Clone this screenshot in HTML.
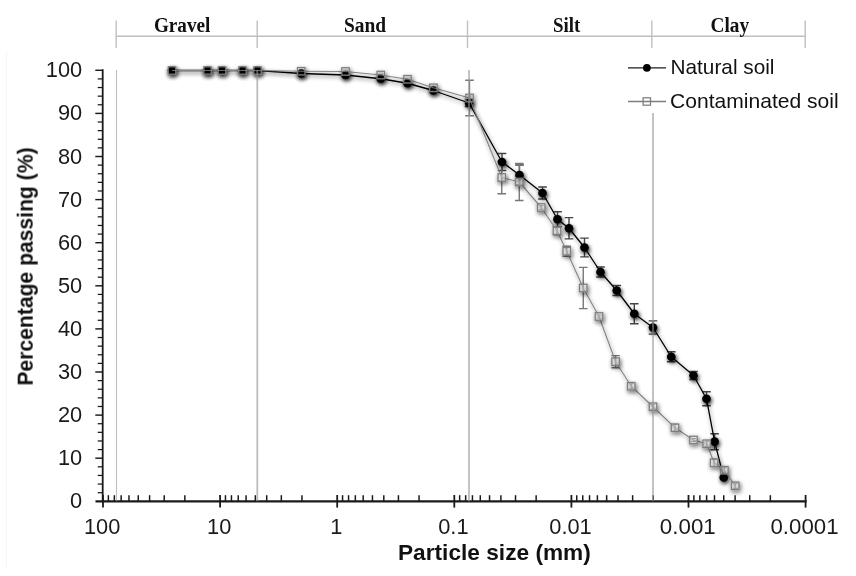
<!DOCTYPE html>
<html lang="en"><head><meta charset="utf-8"><title>Particle size distribution</title>
<style>html,body{margin:0;padding:0;background:#fff;}body{width:856px;height:576px;overflow:hidden}svg{display:block}</style>
</head><body>
<svg width="856" height="576" viewBox="0 0 856 576">
<defs>
<filter id="sh" x="-5%" y="-5%" width="110%" height="110%">
<feGaussianBlur in="SourceAlpha" stdDeviation="2.3" result="b"/>
<feOffset in="b" dx="0.8" dy="1.6" result="ob"/>
<feComponentTransfer in="ob" result="s"><feFuncA type="linear" slope="0.9"/></feComponentTransfer>
<feMerge><feMergeNode in="s"/><feMergeNode in="SourceGraphic"/></feMerge>
</filter>
<filter id="shl" x="-5%" y="-5%" width="110%" height="110%">
<feGaussianBlur in="SourceAlpha" stdDeviation="2.3" result="b"/>
<feOffset in="b" dx="0.8" dy="1.6" result="ob"/>
<feComponentTransfer in="ob" result="s"><feFuncA type="linear" slope="0.5"/></feComponentTransfer>
<feMerge><feMergeNode in="s"/><feMergeNode in="SourceGraphic"/></feMerge>
</filter>
</defs>
<rect width="856" height="576" fill="#fff"/>
<line x1="6.5" y1="51" x2="6.5" y2="567" stroke="#f6f6f6" stroke-width="1"/>
<g stroke="#c0c0c0" stroke-width="1.4" fill="none">
<line x1="115.5" y1="36.3" x2="805.9" y2="36.3"/>
<line x1="116.2" y1="20.5" x2="116.2" y2="48"/>
<line x1="257.2" y1="20.5" x2="257.2" y2="48"/>
<line x1="467.5" y1="20.5" x2="467.5" y2="48"/>
<line x1="651.8" y1="20.5" x2="651.8" y2="48"/>
<line x1="805.2" y1="20.5" x2="805.2" y2="48"/>
</g>
<g font-family="'Liberation Serif', serif" font-weight="bold" font-size="20.3px" fill="#111" opacity="0.999">
<text x="153.9" y="32.2" textLength="56.5" lengthAdjust="spacingAndGlyphs">Gravel</text>
<text x="343.9" y="32.2" textLength="42.2" lengthAdjust="spacingAndGlyphs">Sand</text>
<text x="553.1" y="32.2" textLength="27.3" lengthAdjust="spacingAndGlyphs">Silt</text>
<text x="710.6" y="32.2" textLength="38.5" lengthAdjust="spacingAndGlyphs">Clay</text>
</g>
<g stroke="#1a1a1a" fill="none">
<line x1="102.7" y1="69.3" x2="102.7" y2="502.3" stroke-width="1.8"/>
<line x1="95.5" y1="501.3" x2="806.6" y2="501.3" stroke-width="2.2"/>
<line x1="97.7" y1="492.68" x2="102.7" y2="492.68" stroke-width="1.25"/>
<line x1="97.7" y1="484.06" x2="102.7" y2="484.06" stroke-width="1.25"/>
<line x1="97.7" y1="475.44" x2="102.7" y2="475.44" stroke-width="1.25"/>
<line x1="97.7" y1="466.82" x2="102.7" y2="466.82" stroke-width="1.25"/>
<line x1="95.3" y1="458.20" x2="102.7" y2="458.20" stroke-width="1.45"/>
<line x1="97.7" y1="449.58" x2="102.7" y2="449.58" stroke-width="1.25"/>
<line x1="97.7" y1="440.96" x2="102.7" y2="440.96" stroke-width="1.25"/>
<line x1="97.7" y1="432.34" x2="102.7" y2="432.34" stroke-width="1.25"/>
<line x1="97.7" y1="423.72" x2="102.7" y2="423.72" stroke-width="1.25"/>
<line x1="95.3" y1="415.10" x2="102.7" y2="415.10" stroke-width="1.45"/>
<line x1="97.7" y1="406.48" x2="102.7" y2="406.48" stroke-width="1.25"/>
<line x1="97.7" y1="397.86" x2="102.7" y2="397.86" stroke-width="1.25"/>
<line x1="97.7" y1="389.24" x2="102.7" y2="389.24" stroke-width="1.25"/>
<line x1="97.7" y1="380.62" x2="102.7" y2="380.62" stroke-width="1.25"/>
<line x1="95.3" y1="372.00" x2="102.7" y2="372.00" stroke-width="1.45"/>
<line x1="97.7" y1="363.38" x2="102.7" y2="363.38" stroke-width="1.25"/>
<line x1="97.7" y1="354.76" x2="102.7" y2="354.76" stroke-width="1.25"/>
<line x1="97.7" y1="346.14" x2="102.7" y2="346.14" stroke-width="1.25"/>
<line x1="97.7" y1="337.52" x2="102.7" y2="337.52" stroke-width="1.25"/>
<line x1="95.3" y1="328.90" x2="102.7" y2="328.90" stroke-width="1.45"/>
<line x1="97.7" y1="320.28" x2="102.7" y2="320.28" stroke-width="1.25"/>
<line x1="97.7" y1="311.66" x2="102.7" y2="311.66" stroke-width="1.25"/>
<line x1="97.7" y1="303.04" x2="102.7" y2="303.04" stroke-width="1.25"/>
<line x1="97.7" y1="294.42" x2="102.7" y2="294.42" stroke-width="1.25"/>
<line x1="95.3" y1="285.80" x2="102.7" y2="285.80" stroke-width="1.45"/>
<line x1="97.7" y1="277.18" x2="102.7" y2="277.18" stroke-width="1.25"/>
<line x1="97.7" y1="268.56" x2="102.7" y2="268.56" stroke-width="1.25"/>
<line x1="97.7" y1="259.94" x2="102.7" y2="259.94" stroke-width="1.25"/>
<line x1="97.7" y1="251.32" x2="102.7" y2="251.32" stroke-width="1.25"/>
<line x1="95.3" y1="242.70" x2="102.7" y2="242.70" stroke-width="1.45"/>
<line x1="97.7" y1="234.08" x2="102.7" y2="234.08" stroke-width="1.25"/>
<line x1="97.7" y1="225.46" x2="102.7" y2="225.46" stroke-width="1.25"/>
<line x1="97.7" y1="216.84" x2="102.7" y2="216.84" stroke-width="1.25"/>
<line x1="97.7" y1="208.22" x2="102.7" y2="208.22" stroke-width="1.25"/>
<line x1="95.3" y1="199.60" x2="102.7" y2="199.60" stroke-width="1.45"/>
<line x1="97.7" y1="190.98" x2="102.7" y2="190.98" stroke-width="1.25"/>
<line x1="97.7" y1="182.36" x2="102.7" y2="182.36" stroke-width="1.25"/>
<line x1="97.7" y1="173.74" x2="102.7" y2="173.74" stroke-width="1.25"/>
<line x1="97.7" y1="165.12" x2="102.7" y2="165.12" stroke-width="1.25"/>
<line x1="95.3" y1="156.50" x2="102.7" y2="156.50" stroke-width="1.45"/>
<line x1="97.7" y1="147.88" x2="102.7" y2="147.88" stroke-width="1.25"/>
<line x1="97.7" y1="139.26" x2="102.7" y2="139.26" stroke-width="1.25"/>
<line x1="97.7" y1="130.64" x2="102.7" y2="130.64" stroke-width="1.25"/>
<line x1="97.7" y1="122.02" x2="102.7" y2="122.02" stroke-width="1.25"/>
<line x1="95.3" y1="113.40" x2="102.7" y2="113.40" stroke-width="1.45"/>
<line x1="97.7" y1="104.78" x2="102.7" y2="104.78" stroke-width="1.25"/>
<line x1="97.7" y1="96.16" x2="102.7" y2="96.16" stroke-width="1.25"/>
<line x1="97.7" y1="87.54" x2="102.7" y2="87.54" stroke-width="1.25"/>
<line x1="97.7" y1="78.92" x2="102.7" y2="78.92" stroke-width="1.25"/>
<line x1="95.3" y1="70.30" x2="102.7" y2="70.30" stroke-width="1.45"/>
<line x1="103.00" y1="495" x2="103.00" y2="507.6" stroke-width="1.8"/>
<line x1="184.85" y1="495.2" x2="184.85" y2="501.3" stroke-width="1.5"/>
<line x1="164.23" y1="495.2" x2="164.23" y2="501.3" stroke-width="1.5"/>
<line x1="149.60" y1="495.2" x2="149.60" y2="501.3" stroke-width="1.5"/>
<line x1="138.25" y1="495.2" x2="138.25" y2="501.3" stroke-width="1.5"/>
<line x1="128.98" y1="495.2" x2="128.98" y2="501.3" stroke-width="1.5"/>
<line x1="121.14" y1="495.2" x2="121.14" y2="501.3" stroke-width="1.5"/>
<line x1="114.35" y1="495.2" x2="114.35" y2="501.3" stroke-width="1.5"/>
<line x1="108.36" y1="495.2" x2="108.36" y2="501.3" stroke-width="1.5"/>
<line x1="220.10" y1="495" x2="220.10" y2="507.6" stroke-width="1.8"/>
<line x1="301.95" y1="495.2" x2="301.95" y2="501.3" stroke-width="1.5"/>
<line x1="281.33" y1="495.2" x2="281.33" y2="501.3" stroke-width="1.5"/>
<line x1="266.70" y1="495.2" x2="266.70" y2="501.3" stroke-width="1.5"/>
<line x1="255.35" y1="495.2" x2="255.35" y2="501.3" stroke-width="1.5"/>
<line x1="246.08" y1="495.2" x2="246.08" y2="501.3" stroke-width="1.5"/>
<line x1="238.24" y1="495.2" x2="238.24" y2="501.3" stroke-width="1.5"/>
<line x1="231.45" y1="495.2" x2="231.45" y2="501.3" stroke-width="1.5"/>
<line x1="225.46" y1="495.2" x2="225.46" y2="501.3" stroke-width="1.5"/>
<line x1="337.20" y1="495" x2="337.20" y2="507.6" stroke-width="1.8"/>
<line x1="419.05" y1="495.2" x2="419.05" y2="501.3" stroke-width="1.5"/>
<line x1="398.43" y1="495.2" x2="398.43" y2="501.3" stroke-width="1.5"/>
<line x1="383.80" y1="495.2" x2="383.80" y2="501.3" stroke-width="1.5"/>
<line x1="372.45" y1="495.2" x2="372.45" y2="501.3" stroke-width="1.5"/>
<line x1="363.18" y1="495.2" x2="363.18" y2="501.3" stroke-width="1.5"/>
<line x1="355.34" y1="495.2" x2="355.34" y2="501.3" stroke-width="1.5"/>
<line x1="348.55" y1="495.2" x2="348.55" y2="501.3" stroke-width="1.5"/>
<line x1="342.56" y1="495.2" x2="342.56" y2="501.3" stroke-width="1.5"/>
<line x1="454.30" y1="495" x2="454.30" y2="507.6" stroke-width="1.8"/>
<line x1="536.15" y1="495.2" x2="536.15" y2="501.3" stroke-width="1.5"/>
<line x1="515.53" y1="495.2" x2="515.53" y2="501.3" stroke-width="1.5"/>
<line x1="500.90" y1="495.2" x2="500.90" y2="501.3" stroke-width="1.5"/>
<line x1="489.55" y1="495.2" x2="489.55" y2="501.3" stroke-width="1.5"/>
<line x1="480.28" y1="495.2" x2="480.28" y2="501.3" stroke-width="1.5"/>
<line x1="472.44" y1="495.2" x2="472.44" y2="501.3" stroke-width="1.5"/>
<line x1="465.65" y1="495.2" x2="465.65" y2="501.3" stroke-width="1.5"/>
<line x1="459.66" y1="495.2" x2="459.66" y2="501.3" stroke-width="1.5"/>
<line x1="571.40" y1="495" x2="571.40" y2="507.6" stroke-width="1.8"/>
<line x1="653.25" y1="495.2" x2="653.25" y2="501.3" stroke-width="1.5"/>
<line x1="632.63" y1="495.2" x2="632.63" y2="501.3" stroke-width="1.5"/>
<line x1="618.00" y1="495.2" x2="618.00" y2="501.3" stroke-width="1.5"/>
<line x1="606.65" y1="495.2" x2="606.65" y2="501.3" stroke-width="1.5"/>
<line x1="597.38" y1="495.2" x2="597.38" y2="501.3" stroke-width="1.5"/>
<line x1="589.54" y1="495.2" x2="589.54" y2="501.3" stroke-width="1.5"/>
<line x1="582.75" y1="495.2" x2="582.75" y2="501.3" stroke-width="1.5"/>
<line x1="576.76" y1="495.2" x2="576.76" y2="501.3" stroke-width="1.5"/>
<line x1="688.50" y1="495" x2="688.50" y2="507.6" stroke-width="1.8"/>
<line x1="770.35" y1="495.2" x2="770.35" y2="501.3" stroke-width="1.5"/>
<line x1="749.73" y1="495.2" x2="749.73" y2="501.3" stroke-width="1.5"/>
<line x1="735.10" y1="495.2" x2="735.10" y2="501.3" stroke-width="1.5"/>
<line x1="723.75" y1="495.2" x2="723.75" y2="501.3" stroke-width="1.5"/>
<line x1="714.48" y1="495.2" x2="714.48" y2="501.3" stroke-width="1.5"/>
<line x1="706.64" y1="495.2" x2="706.64" y2="501.3" stroke-width="1.5"/>
<line x1="699.85" y1="495.2" x2="699.85" y2="501.3" stroke-width="1.5"/>
<line x1="693.86" y1="495.2" x2="693.86" y2="501.3" stroke-width="1.5"/>
<line x1="805.60" y1="495" x2="805.60" y2="507.6" stroke-width="1.8"/>
</g>
<g font-family="'Liberation Sans', sans-serif" font-size="21.8px" fill="#1a1a1a" opacity="0.999">
<text x="82.2" y="508.30" text-anchor="end">0</text>
<text x="82.2" y="465.20" text-anchor="end">10</text>
<text x="82.2" y="422.10" text-anchor="end">20</text>
<text x="82.2" y="379.00" text-anchor="end">30</text>
<text x="82.2" y="335.90" text-anchor="end">40</text>
<text x="82.2" y="292.80" text-anchor="end">50</text>
<text x="82.2" y="249.70" text-anchor="end">60</text>
<text x="82.2" y="206.60" text-anchor="end">70</text>
<text x="82.2" y="163.50" text-anchor="end">80</text>
<text x="82.2" y="120.40" text-anchor="end">90</text>
<text x="82.2" y="77.30" text-anchor="end">100</text>
<text x="102.10" y="533.5" text-anchor="middle">100</text>
<text x="219.20" y="533.5" text-anchor="middle">10</text>
<text x="336.30" y="533.5" text-anchor="middle">1</text>
<text x="453.40" y="533.5" text-anchor="middle">0.1</text>
<text x="570.50" y="533.5" text-anchor="middle">0.01</text>
<text x="659.85" y="533.5" textLength="55.9" lengthAdjust="spacingAndGlyphs">0.001</text>
<text x="770.50" y="533.5" textLength="68" lengthAdjust="spacingAndGlyphs">0.0001</text>
</g>
<g font-family="'Liberation Sans', sans-serif" font-weight="bold" fill="#111" opacity="0.999">
<text x="398.0" y="559.6" font-size="21.6px" textLength="192.8" lengthAdjust="spacingAndGlyphs">Particle size (mm)</text>
<text transform="translate(32.7,385.6) rotate(-90)" font-size="22.8px" textLength="238.2" lengthAdjust="spacingAndGlyphs">Percentage passing (%)</text>
</g>
<g>










<path d="M469.10 99.50V106.50M464.80 99.50H473.40M464.80 106.50H473.40" stroke="#444" stroke-width="1.4" fill="none"/>
<path d="M502.00 153.50V170.50M497.70 153.50H506.30M497.70 170.50H506.30" stroke="#444" stroke-width="1.4" fill="none"/>
<path d="M519.50 165.00V185.00M515.20 165.00H523.80M515.20 185.00H523.80" stroke="#444" stroke-width="1.4" fill="none"/>
<path d="M542.50 187.00V199.00M538.20 187.00H546.80M538.20 199.00H546.80" stroke="#444" stroke-width="1.4" fill="none"/>
<path d="M557.50 211.75V226.75M553.20 211.75H561.80M553.20 226.75H561.80" stroke="#444" stroke-width="1.4" fill="none"/>
<path d="M569.00 217.65V238.85M564.70 217.65H573.30M564.70 238.85H573.30" stroke="#444" stroke-width="1.4" fill="none"/>
<path d="M584.50 238.10V256.90M580.20 238.10H588.80M580.20 256.90H588.80" stroke="#444" stroke-width="1.4" fill="none"/>
<path d="M600.50 267.00V277.00M596.20 267.00H604.80M596.20 277.00H604.80" stroke="#444" stroke-width="1.4" fill="none"/>
<path d="M616.75 285.50V295.50M612.45 285.50H621.05M612.45 295.50H621.05" stroke="#444" stroke-width="1.4" fill="none"/>
<path d="M634.30 303.75V323.75M630.00 303.75H638.60M630.00 323.75H638.60" stroke="#444" stroke-width="1.4" fill="none"/>
<path d="M653.00 320.90V334.10M648.70 320.90H657.30M648.70 334.10H657.30" stroke="#444" stroke-width="1.4" fill="none"/>
<path d="M671.25 351.75V361.75M666.95 351.75H675.55M666.95 361.75H675.55" stroke="#444" stroke-width="1.4" fill="none"/>
<path d="M693.50 371.50V379.50M689.20 371.50H697.80M689.20 379.50H697.80" stroke="#444" stroke-width="1.4" fill="none"/>
<path d="M706.50 391.75V405.75M702.20 391.75H710.80M702.20 405.75H710.80" stroke="#444" stroke-width="1.4" fill="none"/>
<path d="M714.60 433.70V449.70M710.30 433.70H718.90M710.30 449.70H718.90" stroke="#444" stroke-width="1.4" fill="none"/>











<path d="M469.50 80.30V115.70M465.20 80.30H473.80M465.20 115.70H473.80" stroke="#777" stroke-width="1.4" fill="none"/>
<path d="M501.75 161.25V193.75M497.45 161.25H506.05M497.45 193.75H506.05" stroke="#777" stroke-width="1.4" fill="none"/>
<path d="M519.25 163.50V200.50M514.95 163.50H523.55M514.95 200.50H523.55" stroke="#777" stroke-width="1.4" fill="none"/>
<path d="M541.25 205.50V209.50M538.85 205.50H543.65M538.85 209.50H543.65" stroke="#777" stroke-width="1.2" fill="none"/>
<path d="M557.00 226.75V234.75M552.70 226.75H561.30M552.70 234.75H561.30" stroke="#777" stroke-width="1.4" fill="none"/>
<path d="M566.75 246.25V256.25M562.45 246.25H571.05M562.45 256.25H571.05" stroke="#777" stroke-width="1.4" fill="none"/>
<path d="M583.25 267.40V308.60M578.95 267.40H587.55M578.95 308.60H587.55" stroke="#777" stroke-width="1.4" fill="none"/>
<path d="M599.00 315.00V318.00M596.60 315.00H601.40M596.60 318.00H601.40" stroke="#777" stroke-width="1.2" fill="none"/>
<path d="M615.60 355.60V367.80M611.30 355.60H619.90M611.30 367.80H619.90" stroke="#777" stroke-width="1.4" fill="none"/>
<path d="M631.25 383.75V388.75M628.85 383.75H633.65M628.85 388.75H633.65" stroke="#777" stroke-width="1.2" fill="none"/>
<path d="M653.00 404.25V409.25M650.60 404.25H655.40M650.60 409.25H655.40" stroke="#777" stroke-width="1.2" fill="none"/>
<path d="M675.00 424.25V431.25M672.60 424.25H677.40M672.60 431.25H677.40" stroke="#777" stroke-width="1.2" fill="none"/>
<path d="M693.50 438.50V441.50M691.10 438.50H695.90M691.10 441.50H695.90" stroke="#777" stroke-width="1.2" fill="none"/>
<path d="M706.70 441.25V446.25M704.30 441.25H709.10M704.30 446.25H709.10" stroke="#777" stroke-width="1.2" fill="none"/>
<path d="M714.10 459.10V466.50M711.70 459.10H716.50M711.70 466.50H716.50" stroke="#777" stroke-width="1.2" fill="none"/>
<path d="M724.40 467.70V472.70M722.00 467.70H726.80M722.00 472.70H726.80" stroke="#777" stroke-width="1.2" fill="none"/>
<path d="M735.20 483.30V488.30M732.80 483.30H737.60M732.80 488.30H737.60" stroke="#777" stroke-width="1.2" fill="none"/>
</g>
<g>
<polyline filter="url(#shl)" points="172.00,70.50 207.50,70.50 222.00,70.50 242.50,70.50 257.50,70.50 301.25,73.50 345.50,75.00 380.75,78.75 407.50,83.25 433.25,90.50 469.10,103.00 502.00,162.00 519.50,175.00 542.50,193.00 557.50,219.25 569.00,228.25 584.50,247.50 600.50,272.00 616.75,290.50 634.30,313.75 653.00,327.50 671.25,356.75 693.50,375.50 706.50,398.75 714.60,441.70 723.75,477.50" fill="none" stroke="#000" stroke-width="1.3" stroke-linejoin="round"/>
<g filter="url(#sh)">
<circle cx="172.00" cy="70.50" r="4.35" fill="#000"/>
<circle cx="207.50" cy="70.50" r="4.35" fill="#000"/>
<circle cx="222.00" cy="70.50" r="4.35" fill="#000"/>
<circle cx="242.50" cy="70.50" r="4.35" fill="#000"/>
<circle cx="257.50" cy="70.50" r="4.35" fill="#000"/>
<circle cx="301.25" cy="73.50" r="4.35" fill="#000"/>
<circle cx="345.50" cy="75.00" r="4.35" fill="#000"/>
<circle cx="380.75" cy="78.75" r="4.35" fill="#000"/>
<circle cx="407.50" cy="83.25" r="4.35" fill="#000"/>
<circle cx="433.25" cy="90.50" r="4.35" fill="#000"/>
<circle cx="469.10" cy="103.00" r="4.35" fill="#000"/>
<circle cx="502.00" cy="162.00" r="4.35" fill="#000"/>
<circle cx="519.50" cy="175.00" r="4.35" fill="#000"/>
<circle cx="542.50" cy="193.00" r="4.35" fill="#000"/>
<circle cx="557.50" cy="219.25" r="4.35" fill="#000"/>
<circle cx="569.00" cy="228.25" r="4.35" fill="#000"/>
<circle cx="584.50" cy="247.50" r="4.35" fill="#000"/>
<circle cx="600.50" cy="272.00" r="4.35" fill="#000"/>
<circle cx="616.75" cy="290.50" r="4.35" fill="#000"/>
<circle cx="634.30" cy="313.75" r="4.35" fill="#000"/>
<circle cx="653.00" cy="327.50" r="4.35" fill="#000"/>
<circle cx="671.25" cy="356.75" r="4.35" fill="#000"/>
<circle cx="693.50" cy="375.50" r="4.35" fill="#000"/>
<circle cx="706.50" cy="398.75" r="4.35" fill="#000"/>
<circle cx="714.60" cy="441.70" r="4.35" fill="#000"/>
<circle cx="723.75" cy="477.50" r="4.35" fill="#000"/>
</g></g>
<g>
<polyline filter="url(#shl)" points="172.00,70.50 207.50,70.50 222.00,70.50 242.50,70.50 257.50,70.50 301.25,71.25 345.50,71.50 380.75,75.00 407.50,79.25 433.40,87.80 469.50,98.00 501.75,177.50 519.25,182.00 541.25,207.50 557.00,230.75 566.75,251.25 583.25,288.00 599.00,316.50 615.60,361.70 631.25,386.25 653.00,406.75 675.00,427.75 693.50,440.00 706.70,443.75 714.10,462.80 724.40,470.20 735.20,485.80" fill="none" stroke="#858585" stroke-width="1.15" stroke-linejoin="round"/>
<g filter="url(#sh)">
<rect x="168.25" y="66.75" width="7.5" height="7.5" fill="none" stroke="#7d7d7d" stroke-width="1.25"/>
<rect x="203.75" y="66.75" width="7.5" height="7.5" fill="none" stroke="#7d7d7d" stroke-width="1.25"/>
<rect x="218.25" y="66.75" width="7.5" height="7.5" fill="none" stroke="#7d7d7d" stroke-width="1.25"/>
<rect x="238.75" y="66.75" width="7.5" height="7.5" fill="none" stroke="#7d7d7d" stroke-width="1.25"/>
<rect x="253.75" y="66.75" width="7.5" height="7.5" fill="none" stroke="#7d7d7d" stroke-width="1.25"/>
<rect x="297.50" y="67.50" width="7.5" height="7.5" fill="none" stroke="#7d7d7d" stroke-width="1.25"/>
<rect x="341.75" y="67.75" width="7.5" height="7.5" fill="none" stroke="#7d7d7d" stroke-width="1.25"/>
<rect x="377.00" y="71.25" width="7.5" height="7.5" fill="none" stroke="#7d7d7d" stroke-width="1.25"/>
<rect x="403.75" y="75.50" width="7.5" height="7.5" fill="none" stroke="#7d7d7d" stroke-width="1.25"/>
<rect x="429.65" y="84.05" width="7.5" height="7.5" fill="none" stroke="#7d7d7d" stroke-width="1.25"/>
<rect x="465.75" y="94.25" width="7.5" height="7.5" fill="none" stroke="#7d7d7d" stroke-width="1.25"/>
<rect x="498.00" y="173.75" width="7.5" height="7.5" fill="#fff" fill-opacity="0.3" stroke="#7d7d7d" stroke-width="1.25"/>
<rect x="515.50" y="178.25" width="7.5" height="7.5" fill="#fff" fill-opacity="0.3" stroke="#7d7d7d" stroke-width="1.25"/>
<rect x="537.50" y="203.75" width="7.5" height="7.5" fill="#fff" fill-opacity="0.3" stroke="#7d7d7d" stroke-width="1.25"/>
<rect x="553.25" y="227.00" width="7.5" height="7.5" fill="#fff" fill-opacity="0.3" stroke="#7d7d7d" stroke-width="1.25"/>
<rect x="563.00" y="247.50" width="7.5" height="7.5" fill="#fff" fill-opacity="0.3" stroke="#7d7d7d" stroke-width="1.25"/>
<rect x="579.50" y="284.25" width="7.5" height="7.5" fill="#fff" fill-opacity="0.3" stroke="#7d7d7d" stroke-width="1.25"/>
<rect x="595.25" y="312.75" width="7.5" height="7.5" fill="#fff" fill-opacity="0.3" stroke="#7d7d7d" stroke-width="1.25"/>
<rect x="611.85" y="357.95" width="7.5" height="7.5" fill="#fff" fill-opacity="0.3" stroke="#7d7d7d" stroke-width="1.25"/>
<rect x="627.50" y="382.50" width="7.5" height="7.5" fill="#fff" fill-opacity="0.3" stroke="#7d7d7d" stroke-width="1.25"/>
<rect x="649.25" y="403.00" width="7.5" height="7.5" fill="#fff" fill-opacity="0.3" stroke="#7d7d7d" stroke-width="1.25"/>
<rect x="671.25" y="424.00" width="7.5" height="7.5" fill="#fff" fill-opacity="0.3" stroke="#7d7d7d" stroke-width="1.25"/>
<rect x="689.75" y="436.25" width="7.5" height="7.5" fill="#fff" fill-opacity="0.3" stroke="#7d7d7d" stroke-width="1.25"/>
<rect x="702.95" y="440.00" width="7.5" height="7.5" fill="#fff" fill-opacity="0.3" stroke="#7d7d7d" stroke-width="1.25"/>
<rect x="710.35" y="459.05" width="7.5" height="7.5" fill="#fff" fill-opacity="0.3" stroke="#7d7d7d" stroke-width="1.25"/>
<rect x="720.65" y="466.45" width="7.5" height="7.5" fill="#fff" fill-opacity="0.3" stroke="#7d7d7d" stroke-width="1.25"/>
<rect x="731.45" y="482.05" width="7.5" height="7.5" fill="#fff" fill-opacity="0.3" stroke="#7d7d7d" stroke-width="1.25"/>
</g></g>
<g stroke="#999494" stroke-width="1.8" stroke-opacity="0.64">
<line x1="116.5" y1="70" x2="116.5" y2="501.3" stroke-width="1.1" stroke-opacity="0.6"/>
<line x1="257.3" y1="70" x2="257.3" y2="501.3"/>
<line x1="469" y1="70" x2="469" y2="501.3"/>
<line x1="653" y1="113" x2="653" y2="501.3"/>
</g>
<g>
<line x1="628" y1="67.8" x2="666" y2="67.8" stroke="#1c1c1c" stroke-width="1.35"/>
<circle cx="646.9" cy="67.8" r="3.9" fill="#000"/>
<line x1="628" y1="101.5" x2="666" y2="101.5" stroke="#7d7d7d" stroke-width="1.3"/>
<rect x="643.1" y="97.8" width="7.4" height="7.4" fill="none" stroke="#7d7d7d" stroke-width="1.25"/>
<g font-family="'Liberation Sans', sans-serif" font-size="19.8px" fill="#111" opacity="0.999">
<text x="670.5" y="74.4" textLength="104.0" lengthAdjust="spacingAndGlyphs">Natural soil</text>
<text x="670.1" y="108.2" textLength="168.5" lengthAdjust="spacingAndGlyphs">Contaminated soil</text>
</g></g>
</svg>
</body></html>
